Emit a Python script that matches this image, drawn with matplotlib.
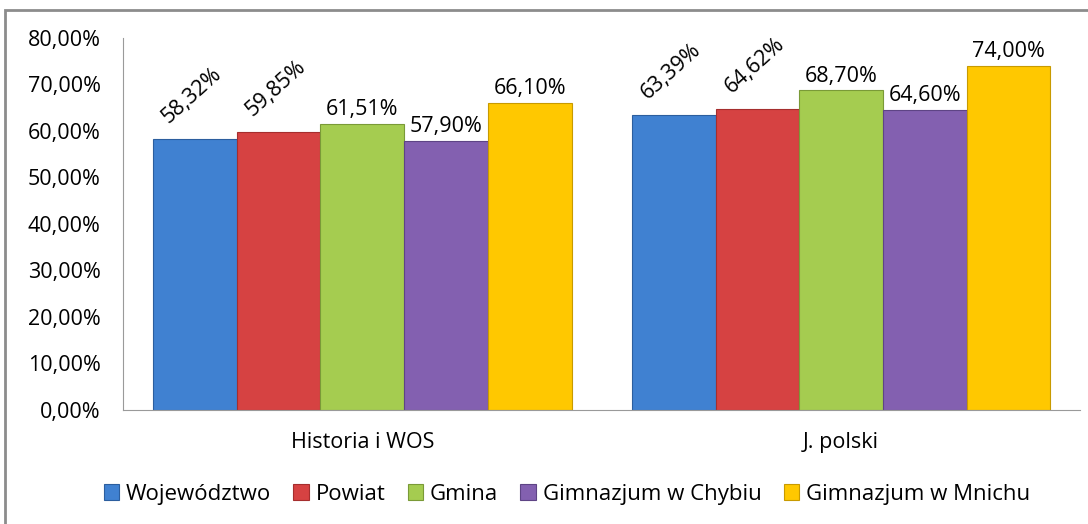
import numpy as np
import matplotlib
matplotlib.use("Agg")
import matplotlib.pyplot as plt
from matplotlib.patches import Rectangle
from matplotlib.ticker import FuncFormatter

categories = ["Historia i WOS", "J. polski"]
series = ["Województwo", "Powiat", "Gmina", "Gimnazjum w Chybiu", "Gimnazjum w Mnichu"]
values = [
    [58.32, 63.39],
    [59.85, 64.62],
    [61.51, 68.70],
    [57.90, 64.60],
    [66.10, 74.00],
]
labels = [
    ["58,32%", "63,39%"],
    ["59,85%", "64,62%"],
    ["61,51%", "68,70%"],
    ["57,90%", "64,60%"],
    ["66,10%", "74,00%"],
]
colors = ["#4081d1", "#d64242", "#a5cc50", "#8360b0", "#ffc800"]
edges = ["#2c5e9e", "#a52e2e", "#7a9a37", "#5e4485", "#c89a00"]
rotated = [True, True, False, False, False]

plt.rcParams['font.family'] = ['Open Sans', 'DejaVu Sans']

fig = plt.figure(figsize=(10.88, 5.24), dpi=100)
ax = fig.add_axes([0.113, 0.2176, 0.880, 0.71])

# chart frame
fig.patches.append(Rectangle((5 / 1088, -0.01), 1.1, 1 - 10 / 524 + 0.01,
                             transform=fig.transFigure, fill=False,
                             edgecolor="#8c8c8c", lw=2))

x = np.arange(len(categories))
n = len(series)
group_w = 0.874
w = group_w / n
for i in range(n):
    pos = x - group_w / 2 + w * (i + 0.5)
    ax.bar(pos, values[i], width=w, color=colors[i], edgecolor=edges[i],
           lw=0.8, label=series[i])
    for j in range(len(categories)):
        if rotated[i]:
            ax.text(pos[j] - w / 2 + 0.04, values[i][j] + 2.5, labels[i][j],
                    rotation=42, ha="left", va="bottom", fontsize=15.5,
                    rotation_mode="anchor")
        else:
            ax.text(pos[j], values[i][j] + 0.8, labels[i][j],
                    ha="center", va="bottom", fontsize=15.5)

ax.set_xlim(-0.5, 1.5)
ax.set_ylim(0, 80)
ax.set_yticks(np.arange(0, 81, 10))
ax.yaxis.set_major_formatter(FuncFormatter(lambda v, p: f"{v:.2f}%".replace(".", ",")))
ax.set_xticks(x)
ax.set_xticklabels(categories)
ax.tick_params(axis="y", labelsize=15.5, length=0, pad=16)
ax.tick_params(axis="x", labelsize=15.5, length=0, pad=16)
for s in ["top", "right"]:
    ax.spines[s].set_visible(False)
ax.spines["left"].set_color("#9a9a9a")
ax.spines["bottom"].set_color("#9a9a9a")

fig.legend(loc="center", bbox_to_anchor=(0.521, 0.057), ncol=5, frameon=False,
           fontsize=16, handlelength=0.7, handleheight=0.7, handletextpad=0.3,
           columnspacing=1.0)

fig.savefig("out.png", dpi=100)
